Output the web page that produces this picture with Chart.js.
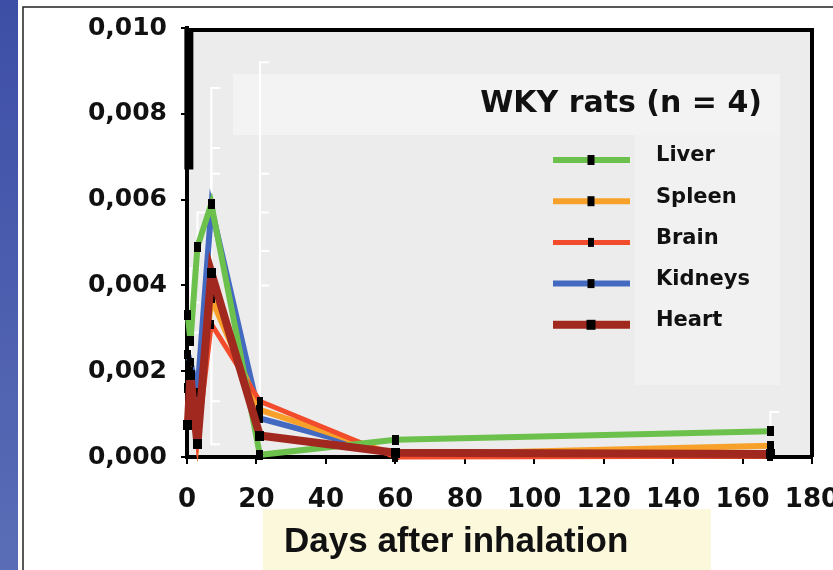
<!DOCTYPE html>
<html><head><meta charset="utf-8">
<script src="https://cdn.jsdelivr.net/npm/chart.js@4"></script>
<style>html,body{margin:0;padding:0;background:#fff;}canvas{display:block;}</style>
</head><body>
<canvas id="c" width="833" height="570"></canvas>
<script>
// ---- data ----
const days = [0.25, 1, 3, 7, 21, 60, 168];
const seriesNames = ['Liver', 'Spleen', 'Brain', 'Kidneys', 'Heart'];
const liver   = [0.0033, 0.0027, 0.0049, 0.0059, 0.00005, 0.0004, 0.0006];
const spleen  = [0.0016, 0.0018, 0.0005, 0.0037, 0.0011, 0.00005, 0.00026];
const brain   = [0.0010, 0.0020, 0.0004, 0.0031, 0.0013, 0.0, 0.00002];
const kidneys = [0.0024, 0.0022, 0.0015, 0.0058, 0.0009, 0.00005, 0.00005];
const heart   = [0.00075, 0.0019, 0.0003, 0.0043, 0.0005, 0.0001, 0.00007];
// error bar limits (upper / lower), null = none
const liverErrUp   = [null, 0.0044, 0.0057, 0.0072, 0.0040, null, 0.00105];
const spleenErrUp  = [null, null, null, 0.0066, 0.0066, null, null];
const brainErrUp   = [null, 0.0029, null, null, 0.0092, null, null];
const kidneysErrUp = [null, 0.0036, null, 0.0086, 0.0057, null, null];
const heartErrUp   = [0.0100, null, null, null, 0.0048, null, null];
const brainErrLow  = [null, null, null, 0.0013, null, null, null];
const heartErrLow  = [0.0067, null, null, 0.0003, null, null, null];
const xTicks = [0, 20, 40, 60, 80, 100, 120, 140, 160, 180];
const yTicks = [0, 0.002, 0.004, 0.006, 0.008, 0.010];
const chartTitle = 'WKY rats (n = 4)';
const xTitle = 'Days after inhalation';

// ---- styles ----
const colors = ['#6cc04c', '#f8a12a', '#f24c2c', '#4469c0', '#a1281f'];
const widths = [6, 6, 5, 6, 8];
const drawOrder = [1, 3, 2, 4, 0];
const markerW = [7, 7, 6, 7, 9];
const markerH = [10, 10, 9, 9, 10];
const errUps = [liverErrUp, spleenErrUp, brainErrUp, kidneysErrUp, heartErrUp];
const errLows = [null, null, brainErrLow, null, heartErrLow];
const values = [liver, spleen, brain, kidneys, heart];

function markerCanvas(w, h) {
  const c = document.createElement('canvas');
  c.width = w; c.height = h;
  const g = c.getContext('2d');
  g.fillStyle = '#000'; g.fillRect(0, 0, w, h);
  return c;
}

const datasets = seriesNames.map((name, i) => ({
  label: name,
  data: days.map((d, j) => ({x: d, y: values[i][j]})),
  borderColor: colors[i],
  backgroundColor: colors[i],
  borderWidth: widths[i],
  pointStyle: markerCanvas(markerW[i], markerH[i]),
  pointRadius: 5,
  tension: 0,
  fill: false,
  order: drawOrder[i],
  clip: 6
}));

const frame = {
  id: 'frame',
  beforeDraw(chart) {
    const ctx = chart.ctx, a = chart.chartArea;
    ctx.save();
    ctx.fillStyle = '#fff'; ctx.fillRect(0, 0, 833, 570);
    const gr = ctx.createLinearGradient(0, 0, 0, 570);
    gr.addColorStop(0, '#3d4ea6'); gr.addColorStop(1, '#5a6db6');
    ctx.fillStyle = gr; ctx.fillRect(0, 0, 18, 570);
    ctx.strokeStyle = '#222'; ctx.lineWidth = 1.5;
    ctx.beginPath(); ctx.moveTo(23, 570); ctx.lineTo(23, 7); ctx.lineTo(833, 7); ctx.stroke();
    // plot area
    ctx.fillStyle = '#ececec';
    ctx.fillRect(a.left, a.top + 2, a.right - a.left, a.bottom - a.top - 2);
    // lighter legend panels
    ctx.fillStyle = '#f3f3f3';
    ctx.fillRect(233, 74, 547, 61);
    ctx.fillStyle = '#f1f1f1';
    ctx.fillRect(635, 135, 145, 250);
    ctx.strokeStyle = '#000'; ctx.lineWidth = 4;
    ctx.beginPath(); ctx.moveTo(a.left, a.top + 2); ctx.lineTo(a.right, a.top + 2); ctx.lineTo(a.right, a.bottom); ctx.stroke();
    // x title box
    ctx.fillStyle = '#fbf8dc';
    ctx.fillRect(263, 509, 448, 61);
    ctx.fillStyle = '#111';
    ctx.font = 'bold 35px "Liberation Sans", Arial, sans-serif';
    ctx.textAlign = 'left'; ctx.textBaseline = 'middle';
    ctx.fillText(xTitle, 284, 542);
    ctx.restore();
  },
  beforeDatasetsDraw(chart) {
    const ctx = chart.ctx, xs = chart.scales.x, ys = chart.scales.y;
    ctx.save();
    chart.data.datasets.forEach((ds, i) => {
      const up = errUps[i], low = errLows[i];
      days.forEach((d, j) => {
        const hi = up ? up[j] : null;
        const lo = low ? low[j] : null;
        if (hi == null && lo == null) return;
        const x = xs.getPixelForValue(d);
        const y0 = ys.getPixelForValue(lo != null ? lo : values[i][j]);
        const y1 = ys.getPixelForValue(hi != null ? hi : values[i][j]);
        const black = (i === 4 && j === 0);
        ctx.strokeStyle = black ? '#000' : '#ffffff';
        ctx.lineWidth = black ? 9 : 2;
        ctx.beginPath();
        ctx.moveTo(black ? x + 1 : x, y0); ctx.lineTo(black ? x + 1 : x, y1);
        if (!black) {
          if (hi != null) { ctx.moveTo(x - 1, y1); ctx.lineTo(x + 9, y1); }
          if (lo != null) { ctx.moveTo(x - 1, y0); ctx.lineTo(x + 9, y0); }
        }
        ctx.stroke();
      });
    });
    ctx.restore();
  },
  afterDraw(chart) {
    const ctx = chart.ctx;
    ctx.save();
    ctx.fillStyle = '#111';
    ctx.font = 'bold 30px "DejaVu Sans", sans-serif';
    ctx.textAlign = 'right'; ctx.textBaseline = 'middle';
    ctx.fillText(chartTitle, 762, 104);
    chart.data.datasets.forEach((ds, i) => {
      const y = 160 + i * 41.2;
      ctx.strokeStyle = ds.borderColor;
      ctx.lineWidth = ds.borderWidth;
      ctx.beginPath(); ctx.moveTo(553, y); ctx.lineTo(630, y); ctx.stroke();
      ctx.fillStyle = '#000';
      ctx.fillRect(591 - markerW[i] / 2, y - markerH[i] / 2, markerW[i], markerH[i]);
      ctx.fillStyle = '#111';
      ctx.font = 'bold 21px "DejaVu Sans", sans-serif';
      ctx.textAlign = 'left'; ctx.textBaseline = 'middle';
      ctx.fillText(ds.label, 656, y - 4);
    });
    ctx.restore();
  }
};

new Chart(document.getElementById('c'), {
  type: 'line',
  data: {datasets},
  plugins: [frame],
  options: {
    responsive: false,
    animation: false,
    devicePixelRatio: 1,
    layout: {padding: {top: 28, right: 21, left: 0, bottom: 0}},
    plugins: {legend: {display: false}, tooltip: {enabled: false}, title: {display: false}},
    scales: {
      x: {
        type: 'linear', min: 0, max: 180,
        afterBuildTicks: s => { s.ticks = xTicks.map(v => ({value: v})); },
        afterFit: s => { s.height = 113; s.paddingLeft = 0; s.paddingRight = 0; },
        ticks: {color: '#111', font: {family: '"DejaVu Sans", sans-serif', size: 26, weight: 'bold'}, padding: 21, maxRotation: 0, autoSkip: false},
        grid: {drawOnChartArea: false, drawTicks: true, tickLength: 7, color: '#000', lineWidth: 2},
        border: {display: true, color: '#000', width: 4}
      },
      y: {
        min: 0, max: 0.010,
        afterBuildTicks: s => { s.ticks = yTicks.map(v => ({value: v})); },
        afterFit: s => { s.width = 187; s.paddingTop = 0; s.paddingBottom = 0; },
        ticks: {color: '#111', font: {family: '"DejaVu Sans", sans-serif', size: 25, weight: 'bold'}, padding: 14,
          callback: v => v.toFixed(3).replace('.', ',')},
        grid: {drawOnChartArea: false, drawTicks: true, tickLength: 6, color: '#000', lineWidth: 2},
        border: {display: true, color: '#000', width: 4}
      }
    }
  }
});
</script>
</body></html>
